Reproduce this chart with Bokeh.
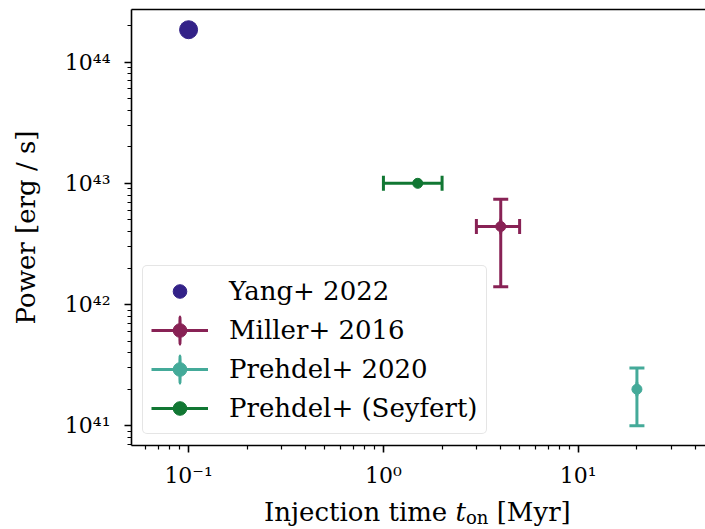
import numpy as np
from bokeh.plotting import figure
from bokeh.layouts import column
from bokeh.models import (FixedTicker, CustomJSTickFormatter, LogAxis, Legend,
                          LegendItem, Range1d, Div)
from bokeh.embed import file_html
from bokeh.resources import INLINE

# ---------------- data ----------------
yang_t = [0.1]
yang_p = [1.85e44]

miller_t = [4.0]
miller_t_lo = [3.0]
miller_t_hi = [5.0]
miller_p = [4.4e42]
miller_p_lo = [1.4e42]
miller_p_hi = [7.4e42]

prehdel_t = [20.0]
prehdel_p = [2.0e41]
prehdel_p_lo = [1.0e41]
prehdel_p_hi = [3.0e41]

seyfert_t = [1.5]
seyfert_t_lo = [1.0]
seyfert_t_hi = [2.0]
seyfert_p = [1.0e43]

x_major = [0.1, 1.0, 10.0]
y_major = [1e41, 1e42, 1e43, 1e44]
x_minor = [m * 10.0 ** e for e in range(-2, 2) for m in range(2, 10)]
y_minor = [m * 10.0 ** e for e in range(40, 45) for m in range(2, 10)]

labels = ["Yang+ 2022", "Miller+ 2016", "Prehdel+ 2020", "Prehdel+ (Seyfert)"]
colors = ["#332288", "#882255", "#44AA99", "#117733"]

FONT = "DejaVu Serif"
TICK_FS = "22px"
LAB_FS = "26px"

p = figure(width=705, height=500, x_axis_type="log", y_axis_type="log",
           x_range=Range1d(10 ** -1.293, 10 ** 1.653),
           y_range=Range1d(10 ** 40.837, 10 ** 44.434),
           output_backend="svg", toolbar_location=None,
           min_border_left=131, min_border_right=0, min_border_top=9,
           min_border_bottom=55, margin=(0, 0, 0, 0))
p.outline_line_color = None
p.xgrid.visible = False
p.ygrid.visible = False
p.background_fill_color = "white"
p.border_fill_color = "white"

fmt = CustomJSTickFormatter(code=r"""
const sup = {'0':'\u2070','1':'\u00b9','2':'\u00b2','3':'\u00b3','4':'\u2074',
             '5':'\u2075','6':'\u2076','7':'\u2077','8':'\u2078','9':'\u2079','-':'\u207b'};
const e = Math.round(Math.log10(tick));
return '10' + String(e).split('').map(c => sup[c]).join('');
""")

for ax, maj, mnr in ((p.xaxis[0], x_major, x_minor), (p.yaxis[0], y_major, y_minor)):
    ax.ticker = FixedTicker(ticks=maj, minor_ticks=mnr)
    ax.formatter = fmt
    ax.major_label_text_font = FONT
    ax.major_label_text_font_size = TICK_FS
    ax.major_label_text_color = "black"
    ax.axis_line_width = 1.6
    ax.axis_line_color = "black"
    ax.major_tick_out = 7
    ax.major_tick_in = 0
    ax.minor_tick_out = 4
    ax.minor_tick_in = 0
    ax.major_tick_line_width = 1.6
    ax.minor_tick_line_width = 1.2
    ax.major_tick_line_color = "black"
    ax.minor_tick_line_color = "black"

p.xaxis.major_label_standoff = 10
p.yaxis.major_label_standoff = 14
p.yaxis.axis_label = "Power [erg / s]"
p.yaxis.axis_label_text_font = FONT
p.yaxis.axis_label_text_font_size = LAB_FS
p.yaxis.axis_label_text_font_style = "normal"
p.yaxis.axis_label_text_color = "black"
p.yaxis.axis_label_standoff = 21

# top spine
top = LogAxis(ticker=FixedTicker(ticks=[], minor_ticks=[]), axis_line_width=1.6,
              major_tick_out=0, minor_tick_out=0, major_tick_in=0, minor_tick_in=0,
              major_label_standoff=0)
p.add_layout(top, "above")

# ---------------- glyphs ----------------
LW = 3
CAP = 15
BAR = dict(width=0.1, height=14, width_units="screen", height_units="screen",
           line_width=LW)

# Yang
r_yang = p.scatter(yang_t, yang_p, size=18, color=colors[0])

# Miller
c = colors[1]
r_mil_h = p.segment(x0=miller_t_lo, y0=miller_p, x1=miller_t_hi, y1=miller_p,
                    line_color=c, line_width=LW)
p.segment(x0=miller_t, y0=miller_p_lo, x1=miller_t, y1=miller_p_hi,
          line_color=c, line_width=LW)
p.scatter(miller_t_lo + miller_t_hi, miller_p + miller_p, marker="dash",
          angle=np.pi / 2, size=CAP, line_color=c, line_width=LW)
p.scatter(miller_t + miller_t, miller_p_lo + miller_p_hi, marker="dash",
          size=CAP, line_color=c, line_width=LW)
r_mil_v = p.ellipse(x=miller_t, y=miller_p, line_color=c, fill_color=c, **BAR)
r_mil_d = p.scatter(miller_t, miller_p, size=10, color=c)

# Prehdel 2020
c = colors[2]
r_pre_s = p.segment(x0=prehdel_t, y0=prehdel_p_lo, x1=prehdel_t, y1=prehdel_p_hi,
                    line_color=c, line_width=LW)
p.scatter(prehdel_t + prehdel_t, prehdel_p_lo + prehdel_p_hi, marker="dash",
          size=CAP, line_color=c, line_width=LW)
r_pre_v = p.ellipse(x=prehdel_t, y=prehdel_p, line_color=c, fill_color=c, **BAR)
r_pre_d = p.scatter(prehdel_t, prehdel_p, size=10, color=c)

# Seyfert
c = colors[3]
r_sey_h = p.segment(x0=seyfert_t_lo, y0=seyfert_p, x1=seyfert_t_hi, y1=seyfert_p,
                    line_color=c, line_width=LW)
p.scatter(seyfert_t_lo + seyfert_t_hi, seyfert_p + seyfert_p, marker="dash",
          angle=np.pi / 2, size=CAP, line_color=c, line_width=LW)
r_sey_d = p.scatter(seyfert_t, seyfert_p, size=10, color=c)

legend = Legend(items=[
    LegendItem(label=labels[0], renderers=[r_yang]),
    LegendItem(label=labels[1], renderers=[r_mil_h, r_mil_v, r_mil_d]),
    LegendItem(label=labels[2], renderers=[r_pre_s, r_pre_v, r_pre_d]),
    LegendItem(label=labels[3], renderers=[r_sey_h, r_sey_d]),
], location="bottom_left", margin=11, padding=8, spacing=5,
    glyph_width=57, glyph_height=34, label_height=34, label_standoff=21,
    label_text_font=FONT, label_text_font_size=LAB_FS, label_text_color="black",
    border_line_color="#cccccc", border_line_width=1.6,
    background_fill_color="white", background_fill_alpha=0.8)
if "border_radius" in Legend.properties():
    legend.border_radius = 5
p.add_layout(legend)

# ---------------- x axis label (mixed styles) ----------------
xlabel = Div(
    text=('<div style="font-family:\'DejaVu Serif\'; font-size:26px; line-height:25px; '
          'color:black; white-space:nowrap; padding-left:264px;">'
          'Injection time <i>t</i><span style="font-size:18px; line-height:1; '
          'vertical-align:-3px;">on</span> [Myr]</div>'),
    width=705, height=29, margin=(0, 0, 0, 0))

layout = column(p, xlabel, spacing=0, margin=(0, 0, 0, 0))

with open("out.html", "w", encoding="utf-8") as f:
    f.write(file_html(layout, INLINE))
